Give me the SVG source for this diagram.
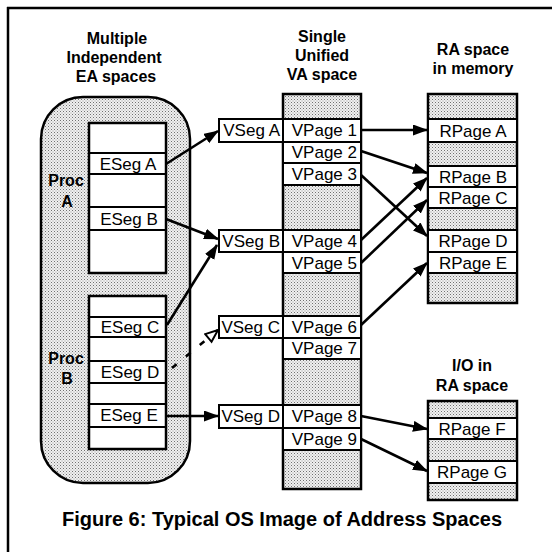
<svg xmlns="http://www.w3.org/2000/svg" width="556" height="552" viewBox="0 0 556 552">
<defs>
<pattern id="dots" width="3" height="3" patternUnits="userSpaceOnUse">
<rect width="3" height="3" fill="#f0f0f0"/>
<rect x="0" y="0" width="1" height="1" fill="#707070"/>
<rect x="1.5" y="1.5" width="1" height="1" fill="#999"/>
</pattern>
<marker id="ah" markerUnits="userSpaceOnUse" markerWidth="16" markerHeight="12" refX="14" refY="5.5" orient="auto">
<path d="M0,0 L15,5.5 L0,11 z" fill="#000"/>
</marker>
<marker id="ao" markerUnits="userSpaceOnUse" markerWidth="18" markerHeight="14" refX="14" refY="6.5" orient="auto">
<path d="M1.5,1.5 L14,6.5 L1.5,11.5 z" fill="#fff" stroke="#000" stroke-width="2"/>
</marker>
</defs>
<style>
.hd{font-family:"Liberation Sans",Arial,sans-serif;font-weight:bold;font-size:16px;text-anchor:middle;fill:#000}
.lb{font-family:"Liberation Sans",Arial,sans-serif;font-size:17px;fill:#000}
.cap{font-family:"Liberation Sans",Arial,sans-serif;font-weight:bold;font-size:20px;text-anchor:middle;fill:#000}
.col{fill:url(#dots);stroke:#000;stroke-width:2.5}
.stk{fill:#fff;stroke:#000;stroke-width:2.5}
.row{fill:#fff;stroke:#000;stroke-width:2}
.ln{stroke:#000;stroke-width:2}
.ar{stroke:#000;stroke-width:2.6;fill:none;marker-end:url(#ah)}
.ad{stroke:#000;stroke-width:2.6;fill:none;stroke-dasharray:6 12;marker-end:url(#ao)}
.mid{text-anchor:middle}
.end{text-anchor:end}
</style>
<g id="frame">
<line x1="7" y1="8" x2="552" y2="8" stroke="#000" stroke-width="2.5"/>
<line x1="8" y1="7" x2="8" y2="552" stroke="#000" stroke-width="2.5"/>
</g>
<g id="headers">
<text class="hd" x="117" y="44">Multiple</text>
<text class="hd" x="114" y="63">Independent</text>
<text class="hd" x="116" y="82">EA spaces</text>
<text class="hd" x="322" y="42">Single</text>
<text class="hd" x="322" y="61">Unified</text>
<text class="hd" x="322" y="80">VA space</text>
<text class="hd" x="473" y="55">RA space</text>
<text class="hd" x="473" y="74">in memory</text>
<text class="hd" x="472" y="371">I/O in</text>
<text class="hd" x="472" y="391">RA space</text>
</g>
<g id="ea-spaces">
<rect x="41" y="97" width="149" height="386" rx="42" ry="42" class="col"/>
</g>
<g id="procA">
<text class="hd" x="66" y="186">Proc</text>
<text class="hd" x="67" y="207">A</text>
<rect x="89" y="123" width="77" height="150" class="stk"/>
<line x1="89" y1="153" x2="166" y2="153" class="ln"/>
<line x1="89" y1="174" x2="166" y2="174" class="ln"/>
<line x1="89" y1="207" x2="166" y2="207" class="ln"/>
<line x1="89" y1="230" x2="166" y2="230" class="ln"/>
<text class="lb mid" x="128" y="170">ESeg A</text>
<text class="lb mid" x="129" y="225">ESeg B</text>
</g>
<g id="procB">
<text class="hd" x="66" y="364">Proc</text>
<text class="hd" x="67" y="384">B</text>
<rect x="89" y="296" width="77" height="153" class="stk"/>
<line x1="89" y1="317" x2="166" y2="317" class="ln"/>
<line x1="89" y1="337" x2="166" y2="337" class="ln"/>
<line x1="89" y1="361" x2="166" y2="361" class="ln"/>
<line x1="89" y1="383" x2="166" y2="383" class="ln"/>
<line x1="89" y1="404" x2="166" y2="404" class="ln"/>
<line x1="89" y1="427" x2="166" y2="427" class="ln"/>
<text class="lb mid" x="130" y="333">ESeg C</text>
<text class="lb mid" x="130" y="378">ESeg D</text>
<text class="lb mid" x="129" y="421">ESeg E</text>
</g>
<g id="va-space">
<rect x="283" y="94" width="78" height="395" class="col"/>
<rect x="283" y="119" width="78" height="23" class="row"/>
<rect x="283" y="142" width="78" height="21" class="row"/>
<rect x="283" y="163" width="78" height="22" class="row"/>
<rect x="283" y="230" width="78" height="22" class="row"/>
<rect x="283" y="252" width="78" height="21" class="row"/>
<rect x="283" y="316" width="78" height="22" class="row"/>
<rect x="283" y="338" width="78" height="21" class="row"/>
<rect x="283" y="405" width="78" height="23" class="row"/>
<rect x="283" y="428" width="78" height="22" class="row"/>
<text class="lb end" x="357" y="136">VPage 1</text>
<text class="lb end" x="357" y="158">VPage 2</text>
<text class="lb end" x="357" y="180">VPage 3</text>
<text class="lb end" x="357" y="247">VPage 4</text>
<text class="lb end" x="357" y="269">VPage 5</text>
<text class="lb end" x="357" y="333">VPage 6</text>
<text class="lb end" x="357" y="354">VPage 7</text>
<text class="lb end" x="357" y="422">VPage 8</text>
<text class="lb end" x="357" y="445">VPage 9</text>
</g>
<g id="vsegs">
<rect x="219" y="119" width="64" height="23" class="row"/>
<rect x="219" y="230" width="64" height="22" class="row"/>
<rect x="219" y="316" width="64" height="22" class="row"/>
<rect x="219" y="405" width="64" height="23" class="row"/>
<text class="lb end" x="280" y="136">VSeg A</text>
<text class="lb end" x="280" y="247">VSeg B</text>
<text class="lb end" x="280" y="333">VSeg C</text>
<text class="lb end" x="280" y="422">VSeg D</text>
</g>
<g id="ra-memory">
<rect x="428" y="94" width="89" height="209" class="col"/>
<rect x="428" y="119" width="89" height="23" class="row"/>
<rect x="428" y="166" width="89" height="21" class="row"/>
<rect x="428" y="187" width="89" height="21" class="row"/>
<rect x="428" y="230" width="89" height="22" class="row"/>
<rect x="428" y="252" width="89" height="21" class="row"/>
<text class="lb mid" x="473" y="137">RPage A</text>
<text class="lb mid" x="473" y="183">RPage B</text>
<text class="lb mid" x="473" y="204">RPage C</text>
<text class="lb mid" x="473" y="247">RPage D</text>
<text class="lb mid" x="473" y="269">RPage E</text>
</g>
<g id="io-space">
<rect x="428" y="401" width="89" height="99" class="col"/>
<rect x="428" y="418" width="89" height="21" class="row"/>
<rect x="428" y="461" width="89" height="22" class="row"/>
<text class="lb mid" x="472" y="435">RPage F</text>
<text class="lb mid" x="472" y="478">RPage G</text>
</g>
<g id="connectors">
<line class="ar" x1="166" y1="164" x2="218" y2="131"/>
<line class="ar" x1="166" y1="219" x2="218" y2="239"/>
<line class="ar" x1="167" y1="325" x2="217" y2="245"/>
<line class="ad" x1="172" y1="368" x2="218" y2="330"/>
<line class="ar" x1="166" y1="416" x2="218" y2="416"/>
<line class="ar" x1="361" y1="130" x2="427" y2="130"/>
<line class="ar" x1="361" y1="151" x2="427" y2="173"/>
<line class="ar" x1="361" y1="175" x2="427" y2="236"/>
<line class="ar" x1="361" y1="240" x2="427" y2="178"/>
<line class="ar" x1="361" y1="263" x2="427" y2="200"/>
<line class="ar" x1="361" y1="325" x2="427" y2="263"/>
<line class="ar" x1="361" y1="416" x2="427" y2="429"/>
<line class="ar" x1="361" y1="439" x2="427" y2="471"/>
</g>
<g id="caption">
<text class="cap" x="282" y="526">Figure 6: Typical OS Image of Address Spaces</text>
</g>
</svg>
